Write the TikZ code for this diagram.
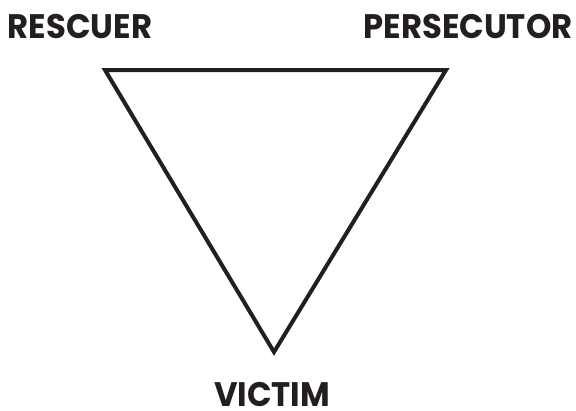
\documentclass[tikz,border=0pt]{standalone}
\usepackage{fontspec}
\setmainfont{Poppins}
\definecolor{ink}{HTML}{231F20}
\begin{document}
\begin{tikzpicture}[x=1pt,y=-1pt,
  lbl/.style={font=\fontsize{34}{34}\selectfont\bfseries, text=ink, inner sep=0pt, anchor=base, xscale=0.95},
  tri/.style={draw=ink, line width=4pt, line join=miter}]
\useasboundingbox (0,0) rectangle (576,410);
\coordinate (tl) at (105,70);
\coordinate (tr) at (446,70);
\coordinate (bt) at (274,352);
\draw[tri] (tl) -- (tr) -- (bt) -- cycle;
\node[lbl] (r) at (80,38) {RESCUER};
\node[lbl] (p) at (468,38) {PERSECUTOR};
\node[lbl] (v) at (272,406) {VICTIM};
\end{tikzpicture}
\end{document}
